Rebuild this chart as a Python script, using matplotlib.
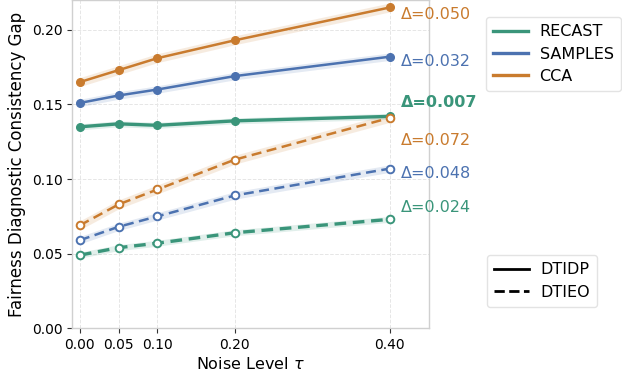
import matplotlib
matplotlib.use("Agg")
import matplotlib.pyplot as plt
from matplotlib.lines import Line2D
import numpy as np

noise = [0.00, 0.05, 0.10, 0.20, 0.40]
xtick_labels = ["0.00", "0.05", "0.10", "0.20", "0.40"]
methods = ["RECAST", "SAMPLES", "CCA"]
colors = {"RECAST": "#3A957A", "SAMPLES": "#4C72B0", "CCA": "#C97B2E"}

dtidp = {
    "RECAST": [0.135, 0.137, 0.136, 0.139, 0.142],
    "SAMPLES": [0.151, 0.156, 0.160, 0.169, 0.182],
    "CCA": [0.165, 0.173, 0.181, 0.193, 0.215],
}
dtieo = {
    "RECAST": [0.049, 0.054, 0.057, 0.064, 0.073],
    "SAMPLES": [0.059, 0.068, 0.075, 0.089, 0.107],
    "CCA": [0.069, 0.083, 0.093, 0.113, 0.141],
}
band = {"RECAST": 0.002, "SAMPLES": 0.0025, "CCA": 0.003}

# delta labels (text, y position, series key, bold)
delta_labels = [
    ("Δ=0.050", 0.2105, "CCA", False),
    ("Δ=0.032", 0.1790, "SAMPLES", False),
    ("Δ=0.007", 0.1515, "RECAST", True),
    ("Δ=0.072", 0.1255, "CCA", False),
    ("Δ=0.048", 0.1040, "SAMPLES", False),
    ("Δ=0.024", 0.0810, "RECAST", False),
]

fig = plt.figure(figsize=(6.22, 3.73), dpi=100)
ax = fig.add_axes([0.116, 0.12, 0.573, 0.88])

x = np.array(noise)
for m in methods:
    lw = 2.4 if m == "RECAST" else 1.8
    y1 = np.array(dtidp[m])
    y2 = np.array(dtieo[m])
    b = band[m]
    ax.fill_between(x, y1 - b, y1 + b, color=colors[m], alpha=0.15, lw=0)
    ax.fill_between(x, y2 - b, y2 + b, color=colors[m], alpha=0.15, lw=0)
    ax.plot(x, y1, color=colors[m], lw=lw, marker="o", ms=5.5, zorder=3)
    ax.plot(x, y2, color=colors[m], lw=lw, ls=(0, (4, 2.2)) if m != "RECAST" else (0, (3.5, 2)),
            marker="o", ms=5.5, mfc="white", mew=1.4, zorder=3)

for txt, yy, key, bold in delta_labels:
    ax.text(0.414, yy, txt, color=colors[key], fontsize=11.5,
            fontweight="bold" if bold else "normal", va="center", ha="left")

ax.set_xlim(-0.01, 0.45)
ax.set_ylim(0, 0.22)
ax.set_xticks(noise)
ax.set_xticklabels(xtick_labels)
ax.set_yticks([0, 0.05, 0.10, 0.15, 0.20])
ax.set_yticklabels(["0.00", "0.05", "0.10", "0.15", "0.20"])
ax.tick_params(labelsize=10, length=3.5, width=0.8, color="#333333")
ax.grid(True, ls="--", color="#e6e6e6", lw=0.7)
ax.set_axisbelow(True)
for s in ax.spines.values():
    s.set_color("#d0d0d0")
    s.set_linewidth(1.0)
ax.set_xlabel("Noise Level $\\tau$", fontsize=11.5, labelpad=3)
ax.set_ylabel("Fairness Diagnostic Consistency Gap", fontsize=12)

h1 = [Line2D([], [], color=colors[m], lw=2.4) for m in methods]
leg1 = fig.legend(h1, methods, loc="upper left", bbox_to_anchor=(0.7814, 0.954),
                  borderaxespad=0, fontsize=11.5, frameon=True, handlelength=2.2,
                  borderpad=0.45, labelspacing=0.45, handletextpad=0.7,
                  edgecolor="#dddddd")
h2 = [Line2D([], [], color="black", lw=2), Line2D([], [], color="black", lw=2, ls="--")]
leg2 = fig.legend(h2, ["DTIDP", "DTIEO"], loc="upper left", bbox_to_anchor=(0.783, 0.316),
                  borderaxespad=0, fontsize=11.5, frameon=True, handlelength=2.2,
                  borderpad=0.45, labelspacing=0.45, handletextpad=0.7,
                  edgecolor="#dddddd")

fig.savefig("out.png", dpi=100)
